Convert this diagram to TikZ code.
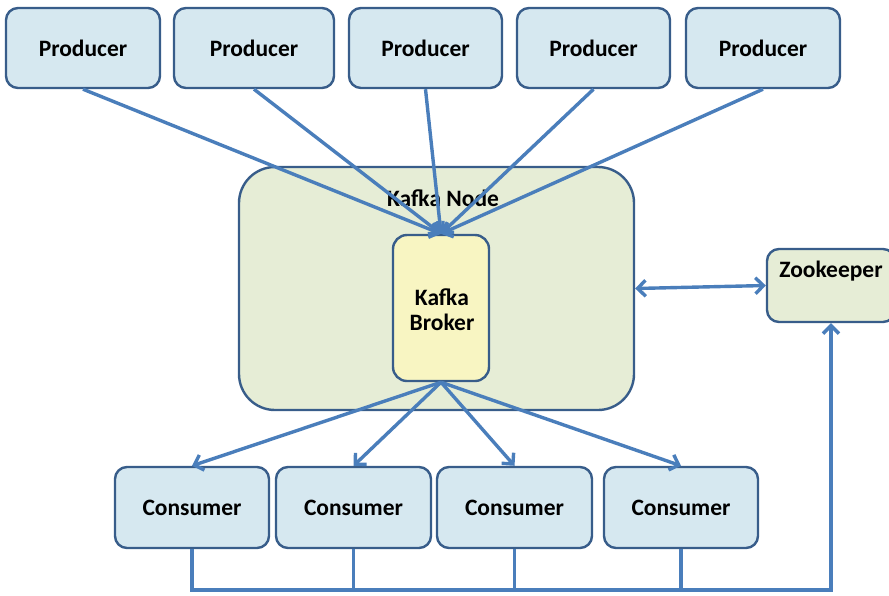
\documentclass[tikz,border=0pt]{standalone}
\usepackage{fontspec}
\setmainfont{Carlito}
\usetikzlibrary{arrows.meta}
\definecolor{boxblue}{HTML}{D6E8F0}
\definecolor{bordblue}{HTML}{385D8A}
\definecolor{arrblue}{HTML}{4A7EBB}
\definecolor{nodegreen}{HTML}{E6EDD6}
\definecolor{brokeryellow}{HTML}{F8F5C2}
\tikzset{
  pbox/.style={draw=bordblue, line width=2.4pt, fill=boxblue, rounded corners=12pt,
    minimum height=80pt, inner sep=0pt, font=\fontsize{23.5}{27}\selectfont\bfseries},
  conn/.style={draw=arrblue, line width=3.4pt, -{Straight Barb[length=8pt,width=16pt,line width=3.4pt]}},
  dconn/.style={draw=arrblue, line width=3.4pt, {Straight Barb[length=8pt,width=16pt,line width=3.4pt]}-{Straight Barb[length=8pt,width=16pt,line width=3.4pt]}},
  bus/.style={draw=arrblue, line width=3.4pt},
  lbl/.style={font=\fontsize{23.5}{27}\selectfont\bfseries, inner sep=0pt}
}
\begin{document}
\begin{tikzpicture}[x=1pt,y=-1pt]
\useasboundingbox (0,0) rectangle (889,595);
\clip (0,0) rectangle (889,595);
% producers
\node[pbox, minimum width=154pt] (P1) at (83,48) {Producer};
\node[pbox, minimum width=160pt] (P2) at (254,48) {Producer};
\node[pbox, minimum width=153pt] (P3) at (425.5,48) {Producer};
\node[pbox, minimum width=153pt] (P4) at (593.5,48) {Producer};
\node[pbox, minimum width=154pt] (P5) at (763,48) {Producer};
% kafka node
\node[draw=bordblue, line width=2.4pt, fill=nodegreen, rounded corners=36pt,
  minimum width=395pt, minimum height=243pt] (KN) at (436.5,288.5) {};
\node[lbl] (KNL) at (443,198) {Kafka Node};
% broker
\node[draw=bordblue, line width=2.4pt, fill=brokeryellow, rounded corners=14pt,
  minimum width=96pt, minimum height=146pt] (B) at (441,308) {};
\node[lbl, align=center, font=\fontsize{23.5}{25}\selectfont\bfseries] (BL) at (442,309.5) {Kafka\\Broker};
% zookeeper
\node[draw=bordblue, line width=2.4pt, fill=nodegreen, rounded corners=12pt,
  minimum width=128pt, minimum height=73pt] (Z) at (831,285.5) {};
\node[lbl] (ZL) at (831,271) {Zookeeper};
% consumers
\node[pbox, minimum width=154pt, minimum height=81pt] (C1) at (192,507.5) {Consumer};
\node[pbox, minimum width=155pt, minimum height=81pt] (C2) at (353.5,507.5) {Consumer};
\node[pbox, minimum width=155pt, minimum height=81pt] (C3) at (514.5,507.5) {Consumer};
\node[pbox, minimum width=154pt, minimum height=81pt] (C4) at (681,507.5) {Consumer};
% producer arrows
\foreach \p in {P1,P2,P3,P4,P5}{
  \draw[conn] (\p.south) -- (B.north);
}
% consumer arrows
\foreach \c in {C1,C2,C3,C4}{
  \draw[conn] (B.south) -- (\c.north);
}
% node <-> zookeeper
\draw[dconn] (KN.east) -- (Z.west);
% bus
\coordinate (b1) at (C1.south |- 0,590);
\coordinate (b2) at (C2.south |- 0,590);
\coordinate (b3) at (C3.south |- 0,590);
\coordinate (b4) at (C4.south |- 0,590);
\coordinate (bz) at (Z.south |- 0,590);
\draw[bus] (C1.south) -- (b1);
\draw[bus] (C2.south) -- (b2);
\draw[bus] (C3.south) -- (b3);
\draw[bus] (C4.south) -- (b4);
\draw[bus, line cap=rect] (b1) -- (bz);
\draw[conn] (bz) -- (Z.south);
\end{tikzpicture}
\end{document}
